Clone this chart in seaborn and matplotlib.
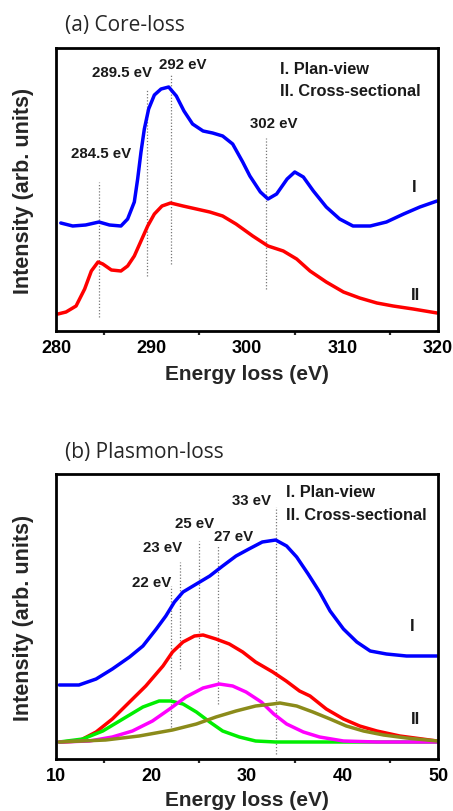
import matplotlib
matplotlib.use("Agg")
import matplotlib.pyplot as plt
import seaborn as sns
import pandas as pd

# ---------------- Panel (a) Core-loss data ----------------
core_E_I = [280.5, 281.75, 283.1, 284.5, 285.6, 286.8, 287.5, 288.2, 288.55, 288.9, 289.25,
            289.7, 290.3, 291.0, 291.8, 292.6, 293.4, 294.3, 295.4, 296.4, 297.45, 298.5,
            299.55, 300.3, 301.4, 302.2, 303.1, 304.2, 305.0, 305.9, 306.95, 308.3, 309.7,
            311.1, 312.9, 314.6, 316.4, 318.1, 319.9]
core_I = [108, 105, 106, 109, 106, 105, 112, 129, 152, 179, 202,
          222, 236, 242, 244, 235, 220, 207, 200, 198, 195, 187,
          169, 155, 139, 132, 137, 152, 159, 154, 140, 124, 112,
          105, 105, 109, 117, 124, 130]

core_E_II = [280.2, 281.05, 282.1, 283.0, 283.7, 284.4, 284.9, 285.8, 286.8, 287.5, 288.2,
             288.9, 289.6, 290.3, 291.1, 292.0, 293.3, 294.7, 296.1, 297.45, 298.85, 300.6,
             302.2, 303.8, 305.2, 306.6, 308.3, 310.1, 311.8, 313.6, 315.3, 317.4, 319.9]
core_II = [17, 19, 25, 42, 60, 69, 67, 61, 60, 65, 75,
           90, 105, 117, 125, 128, 125, 122, 119, 115, 107, 95,
           85, 80, 72, 60, 49, 39, 33, 28, 25, 22, 18]

core_marks = [284.5, 289.5, 292, 302]
core_mark_lo = [14, 55, 67, 42]
core_mark_hi = [149, 242, 256, 193]

# ---------------- Panel (b) Plasmon-loss data ----------------
pl_E_I = [10.35, 12.4, 14.2, 15.9, 17.7, 19.1, 20.5, 21.5, 22.4, 23.3, 24.7, 26.1, 27.45,
          28.85, 30.2, 31.6, 33.0, 34.15, 35.2, 36.4, 37.6, 38.7, 40.1, 41.5, 42.9, 44.6,
          46.7, 49.9]
pl_I = [74, 74, 80, 90, 102, 113, 130, 143, 157, 167, 175, 183, 193,
        203, 210, 217, 219, 213, 202, 185, 167, 148, 130, 117, 108, 105,
        103, 103]

pl_E_II = [10.35, 12.4, 14.2, 15.9, 17.7, 19.4, 21.2, 22.2, 23.3, 24.5, 25.4, 26.75, 28.15,
           29.55, 30.9, 32.7, 34.1, 35.5, 36.6, 38.3, 40.1, 41.8, 43.6, 46.0, 49.9]
pl_II = [17, 18, 27, 40, 57, 73, 93, 107, 117, 123, 124, 120, 115,
         107, 97, 87, 78, 68, 63, 50, 40, 33, 28, 23, 18]

pl_E_g = [10.35, 12.8, 14.9, 17.0, 19.1, 20.8, 22.0, 23.3, 24.7, 26.1, 27.45, 29.2, 30.9,
          33.0, 49.9]
pl_g = [17, 20, 28, 40, 52, 58, 58, 55, 47, 37, 28, 22, 18, 17, 17]

pl_E_m = [10.35, 13.5, 15.9, 18.0, 20.1, 21.9, 23.6, 25.4, 27.1, 28.5, 29.9, 31.5, 32.8,
          34.15, 35.9, 37.6, 40.1, 43.6, 49.9]
pl_m = [17, 18, 22, 28, 38, 50, 62, 71, 75, 73, 67, 57, 45,
        35, 27, 22, 18, 17, 17]

pl_E_o = [10.35, 15.2, 18.7, 22.2, 24.7, 26.75, 28.85, 30.9, 32.7, 33.45, 35.2, 36.9, 38.7,
          40.4, 42.2, 44.3, 46.7, 49.9]
pl_o = [17, 19, 23, 29, 35, 42, 48, 53, 55, 56, 53, 47, 40,
        33, 28, 24, 21, 18]

pl_marks = [22, 23, 25, 27, 33]
pl_mark_lo = [32, 90, 80, 55, 5]
pl_mark_hi = [173, 197, 218, 213, 252]

# ---------------- Style ----------------
sns.set_style("white")
plt.rcParams['font.family'] = ['Liberation Sans', 'DejaVu Sans']

fig = plt.figure(figsize=(4.53, 8.12), dpi=100)
axA = fig.add_axes([56/453, 1-332/812, 382/453, 283/812])
axB = fig.add_axes([56/453, 1-760/812, 382/453, 285/812])

BLUE = "#0000ff"
RED = "#ff0000"
LW = 2.5
TXT = "#1a1a1a"

def draw_line(ax, xs, ys, color, lw=LW):
    df = pd.DataFrame({"x": xs, "y": ys})
    sns.lineplot(data=df, x="x", y="y", ax=ax, color=color, linewidth=lw,
                 sort=False, estimator=None)

def style_axes(ax, xlim, ylim, xticks, minor, xlab_y):
    ax.set_xlim(*xlim)
    ax.set_ylim(*ylim)
    ax.set_xticks(xticks)
    ax.set_xticks(minor, minor=True)
    ax.set_yticks([])
    for s in ax.spines.values():
        s.set_color("black")
        s.set_linewidth(2.0)
    ax.tick_params(axis="x", which="major", direction="out", length=4, width=1.6,
                   labelsize=13, pad=2, colors="black")
    ax.tick_params(axis="x", which="minor", direction="out", length=3, width=1.6,
                   bottom=True)
    for t in ax.get_xticklabels():
        t.set_fontweight("bold")
    ax.set_xlabel("Energy loss (eV)", fontsize=15, fontweight="bold")
    ax.xaxis.set_label_coords(0.5, xlab_y)
    ax.set_ylabel("Intensity (arb. units)", fontsize=15.5, fontweight="bold")
    ax.yaxis.set_label_coords(-0.057, 0.5)

ann_kw = dict(fontsize=10.8, fontweight="bold", ha="center", va="center", color=TXT)
leg_kw = dict(fontsize=11.8, fontweight="bold", ha="left", va="center", color=TXT)
rom_kw = dict(fontsize=12, fontweight="bold", ha="center", va="center", color=TXT)

# ---- Panel (a)
for x, lo, hi in zip(core_marks, core_mark_lo, core_mark_hi):
    axA.plot([x, x], [lo, hi], linestyle=(0, (1, 1.5)), color="#777777", linewidth=0.9)
draw_line(axA, core_E_I, core_I, BLUE)
draw_line(axA, core_E_II, core_II, RED)
style_axes(axA, (280, 320), (0, 283), [280, 290, 300, 310, 320], [285, 295, 305, 315], -0.115)

axA.text(284.7, 178, "284.5 eV", **ann_kw)
axA.text(286.9, 259, "289.5 eV", **ann_kw)
axA.text(293.3, 267, "292 eV", **ann_kw)
axA.text(302.8, 208, "302 eV", **ann_kw)
axA.text(303.5, 262, "I. Plan-view", **leg_kw)
axA.text(303.5, 241, "II. Cross-sectional", **leg_kw)
axA.text(317.5, 144, "I", **rom_kw)
axA.text(317.6, 37, "II", **rom_kw)

# ---- Panel (b)
for x, lo, hi in zip(pl_marks, pl_mark_lo, pl_mark_hi):
    axB.plot([x, x], [lo, hi], linestyle=(0, (1, 1.5)), color="#777777", linewidth=0.9)
draw_line(axB, pl_E_I, pl_I, BLUE)
draw_line(axB, pl_E_II, pl_II, RED)
draw_line(axB, pl_E_g, pl_g, "#00ee00")
draw_line(axB, pl_E_m, pl_m, "#ff00ff")
draw_line(axB, pl_E_o, pl_o, "#8b8b1a")
style_axes(axB, (10, 50), (0, 285), [10, 20, 30, 40, 50], [15, 25, 35, 45], -0.11)

axB.text(20.05, 177, "22 eV", **ann_kw)
axB.text(21.2, 212, "23 eV", **ann_kw)
axB.text(24.55, 236, "25 eV", **ann_kw)
axB.text(28.6, 223, "27 eV", **ann_kw)
axB.text(30.5, 259, "33 eV", **ann_kw)
axB.text(34.1, 267, "I. Plan-view", **leg_kw)
axB.text(34.1, 244, "II. Cross-sectional", **leg_kw)
axB.text(47.3, 133, "I", **rom_kw)
axB.text(47.6, 40, "II", **rom_kw)

# Titles
fig.text(65/453, 1-25/812, "(a) Core-loss", fontsize=15, ha="left", va="center",
         family=["Open Sans", "DejaVu Sans"])
fig.text(65/453, 1-453/812, "(b) Plasmon-loss", fontsize=15, ha="left", va="center",
         family=["Open Sans", "DejaVu Sans"])

fig.savefig("out.png", dpi=100)
